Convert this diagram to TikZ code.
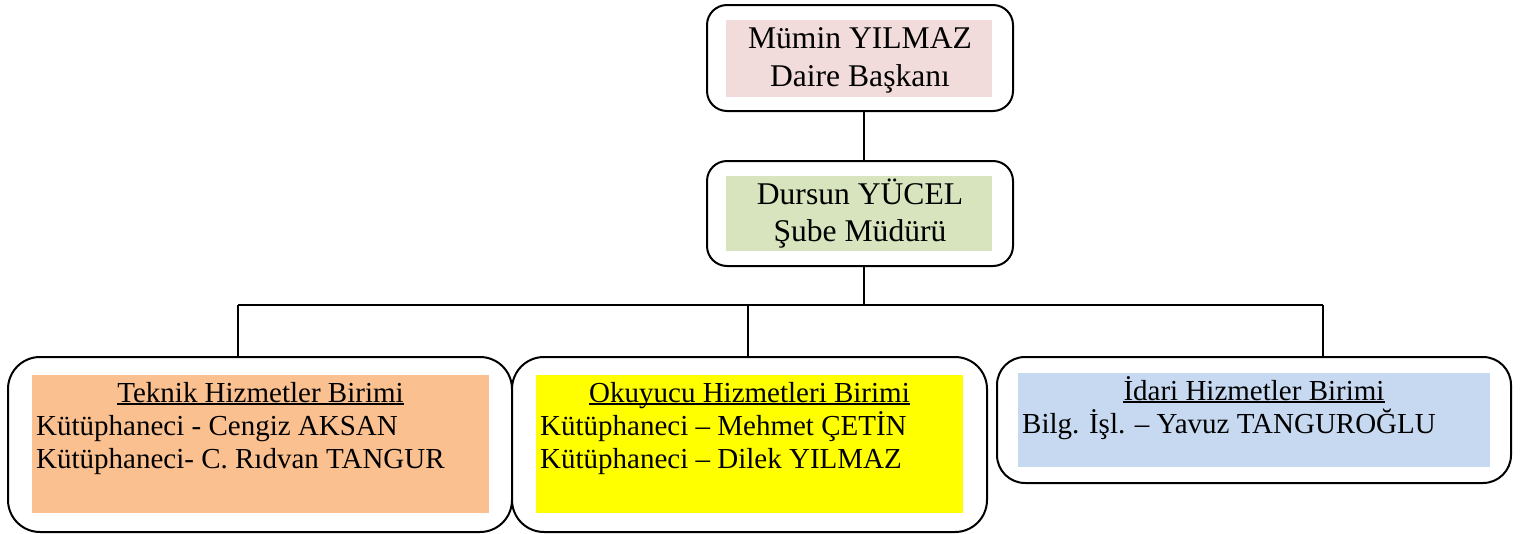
\documentclass[tikz,border=0pt]{standalone}
\usepackage{fontspec}
\setmainfont{Liberation Serif}
\definecolor{cpink}{HTML}{F2DCDB}
\definecolor{cgreen}{HTML}{D7E4BD}
\definecolor{corange}{HTML}{FAC090}
\definecolor{cyellow}{HTML}{FFFF00}
\definecolor{cblue}{HTML}{C6D9F1}
\tikzset{
  outerbox/.style={draw=black, line width=2pt, rounded corners=#1, fill=white, inner sep=0pt, outer sep=0pt},
  fillbox/.style={fill=#1, draw=none, inner sep=0pt, outer sep=0pt},
  bigtxt/.style={inner sep=0pt, font=\fontsize{31.6}{37}\selectfont},
  smalltxt/.style={inner sep=0pt, font=\fontsize{29}{33}\selectfont},
  conn/.style={line width=1.4pt, draw=black},
  uline/.style={line width=1.3pt, draw=black}
}
\begin{document}
\begin{tikzpicture}[x=1pt, y=-1pt]
\useasboundingbox (0,0) rectangle (1528,533);
% top boxes
\node[outerbox=20pt, minimum width=306pt, minimum height=106pt] (top) at (860,58) {};
\node[fillbox=cpink, minimum width=266pt, minimum height=77pt] (topfill) at (859,58.5) {};
\node[bigtxt, anchor=base] (t1) at (860,48) {Mümin YILMAZ};
\node[bigtxt, anchor=base] (t2) at (860,86) {Daire Başkanı};

\node[outerbox=20pt, minimum width=306pt, minimum height=105pt] (mid) at (860,213.5) {};
\node[fillbox=cgreen, minimum width=266pt, minimum height=75pt] (midfill) at (859,213.5) {};
\node[bigtxt, anchor=base] (m1) at (860,204) {Dursun YÜCEL};
\node[bigtxt, anchor=base] (m2) at (860,241) {Şube Müdürü};

% bottom boxes
\node[outerbox=32pt, minimum width=504pt, minimum height=175pt] (tek) at (260,444.5) {};
\node[fillbox=corange, minimum width=457pt, minimum height=138pt] (tekfill) at (260.5,444) {};
\node[smalltxt, anchor=base] (tekh) at (260.5,402) {Teknik Hizmetler Birimi};
\draw[uline] ([yshift=-2pt]tekh.base west) -- ([yshift=-2pt]tekh.base east);
\node[smalltxt, anchor=base west] (tek1) at (36,435) {Kütüphaneci - Cengiz AKSAN};
\node[smalltxt, anchor=base west] (tek2) at (36,468) {Kütüphaneci- C. Rıdvan TANGUR};

\node[outerbox=32pt, minimum width=475pt, minimum height=175pt] (oku) at (749.5,444.5) {};
\node[fillbox=cyellow, minimum width=427pt, minimum height=138pt] (okufill) at (749.5,444) {};
\node[smalltxt, anchor=base] (okuh) at (749.5,402) {Okuyucu Hizmetleri Birimi};
\draw[uline] ([yshift=-2pt]okuh.base west) -- ([yshift=-2pt]okuh.base east);
\node[smalltxt, anchor=base west] (oku1) at (540,435) {Kütüphaneci – Mehmet ÇETİN};
\node[smalltxt, anchor=base west] (oku2) at (540,468) {Kütüphaneci – Dilek YILMAZ};

\node[outerbox=28pt, minimum width=514pt, minimum height=126pt] (ida) at (1254,420) {};
\node[fillbox=cblue, minimum width=472pt, minimum height=94pt] (idafill) at (1254,420) {};
\node[smalltxt, anchor=base] (idah) at (1254,400) {İdari Hizmetler Birimi};
\draw[uline] ([yshift=-2pt]idah.base west) -- ([yshift=-2pt]idah.base east);
\node[smalltxt, anchor=base west] (ida1) at (1022,433) {Bilg. İşl. – Yavuz TANGUROĞLU};

% connectors
\coordinate (bus) at (864,305);
\coordinate (d1) at (238,305);
\coordinate (d2) at (748,305);
\coordinate (d3) at (1323,305);
\draw[conn] (top.south -| bus) -- (mid.north -| bus);
\draw[conn] (mid.south -| bus) -- (bus);
\draw[conn] (d1) -- (d3);
\draw[conn] (d1) -- (d1 |- tek.north);
\draw[conn] (d2) -- (d2 |- oku.north);
\draw[conn] (d3) -- (d3 |- ida.north);
\end{tikzpicture}
\end{document}
